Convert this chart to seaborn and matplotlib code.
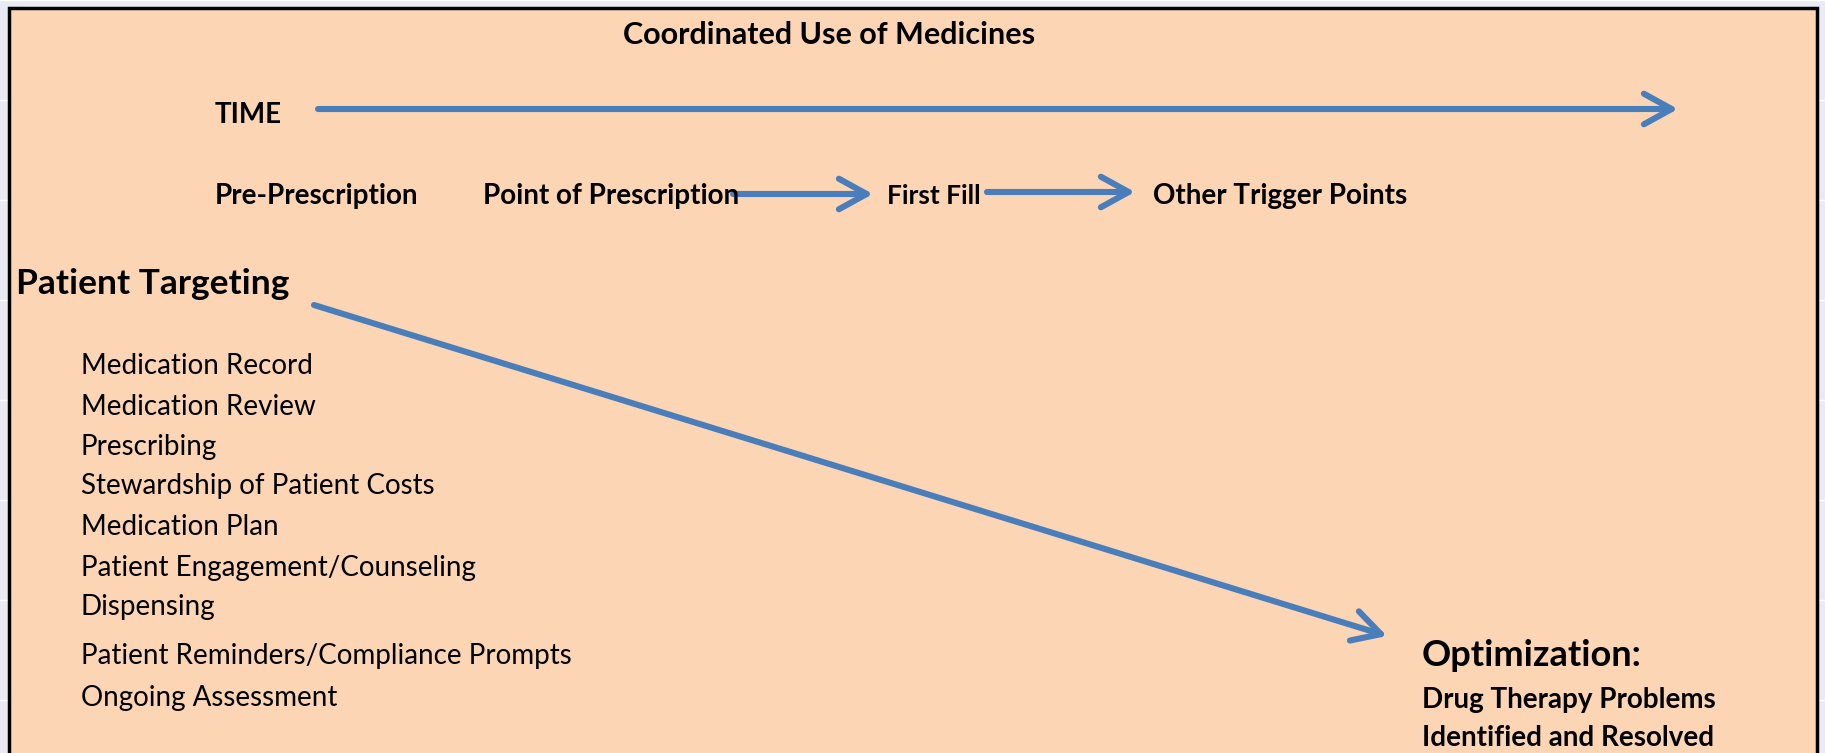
import matplotlib
matplotlib.use("Agg")
import matplotlib.pyplot as plt
import matplotlib.patches as mpatches
import seaborn as sns

# text content of the diagram
title = "Coordinated Use of Medicines"
time_label = "TIME"
stages = ["Pre-Prescription", "Point of Prescription", "First Fill", "Other Trigger Points"]
stage_x = [215, 483, 887, 1153]
start_label = "Patient Targeting"
activities = ["Medication Record", "Medication Review", "Prescribing",
              "Stewardship of Patient Costs", "Medication Plan",
              "Patient Engagement/Counseling", "Dispensing",
              "Patient Reminders/Compliance Prompts", "Ongoing Assessment"]
activity_y = [366, 407, 447, 486, 527, 568, 607, 656, 698]
end_label = "Optimization:"
end_lines = ["Drug Therapy Problems", "Identified and Resolved"]

sns.set_theme(style="darkgrid")
plt.rcParams['font.family'] = ['Lato', 'DejaVu Sans']

W, H = 1825, 753
fig = plt.figure(figsize=(W / 100, H / 100), dpi=100)
ax = fig.add_axes([0, 0, 1, 1])
ax.set_xlim(0, W)
ax.set_ylim(H, 0)
ax.set_xticklabels([])
ax.set_yticklabels([])
ax.tick_params(length=0)
ax.xaxis.grid(False)
for s in ax.spines.values():
    s.set_visible(False)

box = mpatches.Rectangle((9, 8), 1808, H + 20, facecolor="#FCD5B5",
                         edgecolor="black", linewidth=2.5, zorder=1)
ax.add_patch(box)

blue = "#4A7EBB"
txt = dict(color="black", va="center", zorder=4)


def arrow(x0, y0, x1, y1):
    ax.annotate("", xy=(x1, y1), xytext=(x0, y0),
                arrowprops=dict(arrowstyle="->,head_length=1.0,head_width=0.55",
                                color=blue, lw=4.4, mutation_scale=20,
                                shrinkA=0, shrinkB=0, capstyle="round",
                                joinstyle="round"),
                zorder=3)


ax.text(829, 35, title, fontsize=22, fontweight="bold", ha="center", **txt)
ax.text(215, 115, time_label, fontsize=20, fontweight="bold", ha="left", **txt)
arrow(318, 109, 1678, 109)

for lab, x in zip(stages, stage_x):
    fs = 19 if lab == "First Fill" else 20
    ax.text(x, 196, lab, fontsize=fs, fontweight="bold", ha="left", **txt)
arrow(733, 194, 873, 194)
arrow(987, 192, 1135, 192)

ax.text(16, 284, start_label, fontsize=25.5, fontweight="bold", ha="left", **txt)
arrow(314, 305, 1387, 636)

for lab, y in zip(activities, activity_y):
    ax.text(81, y, lab, fontsize=20, ha="left", **txt)

ax.text(1422, 656, end_label, fontsize=26, fontweight="bold", ha="left", **txt)
ax.text(1422, 700, end_lines[0], fontsize=20, fontweight="bold", ha="left", **txt)
ax.text(1422, 738, end_lines[1], fontsize=20, fontweight="bold", ha="left", **txt)

fig.savefig("out.png", dpi=100, facecolor="#EAEAF2")
